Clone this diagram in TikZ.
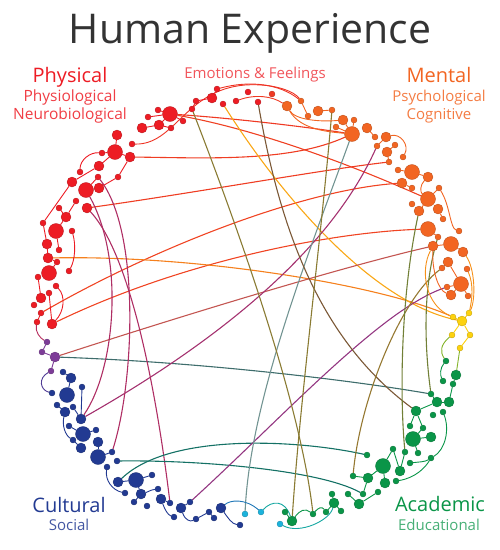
\documentclass[tikz,border=0pt]{standalone}
\usepackage{fontspec}
\setmainfont{Open Sans}
\pgfdeclarelayer{bg}
\pgfsetlayers{bg,main}
\definecolor{cR}{HTML}{ED1C24}
\definecolor{cO}{HTML}{F26522}
\definecolor{cY}{HTML}{FDD20E}
\definecolor{cG}{HTML}{0A9548}
\definecolor{cB}{HTML}{223A92}
\definecolor{cP}{HTML}{7D3C98}
\definecolor{cC}{HTML}{1CB3DC}
\definecolor{cT}{HTML}{333333}
\tikzset{
 dots/.style={circle,inner sep=0pt,minimum size=6pt},
 dotm/.style={circle,inner sep=0pt,minimum size=10pt},
 dotb/.style={circle,inner sep=0pt,minimum size=15pt},
 chord/.style={line width=1.1pt},
 lnk/.style={line width=0.9pt},
 big/.style={font=\fontsize{20}{20}\selectfont,anchor=base},
 sub/.style={font=\fontsize{15}{15}\selectfont,anchor=base},
}
\newcommand\hd[4]{\node[dot#3,fill=#4,draw=#4!75!black,line width=0.3pt] (#1) at (#2) {};}
\begin{document}
\begin{tikzpicture}[x=1pt,y=-1pt]
\path[use as bounding box] (0,0) rectangle (500,550);
% ---- texts
\node[font=\fontsize{41}{41}\selectfont,text=cT,anchor=base] (title) at (250,43) {Human Experience};
\node[big,text=cR] (l1) at (70,82) {Physical};
\node[sub,text=cR!85!white,font=\fontsize{15.5}{15.5}\selectfont] (l2) at (70,101) {Physiological};
\node[sub,text=cR!85!white,font=\fontsize{15.5}{15.5}\selectfont] (l3) at (70,119) {Neurobiological};
\node[sub,text=cR!75!white] (l4) at (255,78) {Emotions \& Feelings};
\node[big,text=cO] (l5) at (439,82) {Mental};
\node[sub,text=cO!85!white] (l6) at (439,101) {Psychological};
\node[sub,text=cO!85!white] (l7) at (439,119) {Cognitive};
\node[big,text=cB] (l8) at (69,512) {Cultural};
\node[sub,text=cB!85!white] (l9) at (69,530) {Social};
\node[big,text=cG] (l10) at (440,511) {Academic};
\node[sub,text=cG!75!white] (l11) at (439,530) {Educational};
% ---- red dots
\hd{p1}{217,89}{s}{cR}\hd{p2}{212,98}{m}{cR}\hd{p3}{196,101}{s}{cR}\hd{p4}{192,109}{s}{cR}
\hd{p5}{170,114}{b}{cR}\hd{p6}{158,110}{s}{cR}\hd{p7}{148,117}{s}{cR}\hd{p8}{142,128}{m}{cR}
\hd{p9}{159,125}{m}{cR}\hd{p10}{171,128}{s}{cR}\hd{p11}{183,121}{s}{cR}\hd{p12}{117,135}{m}{cR}
\hd{p13}{115,152}{b}{cR}\hd{p14}{130,157}{m}{cR}\hd{p15}{132,144}{s}{cR}\hd{p16}{102,153}{s}{cR}
\hd{p17}{99,166}{m}{cR}\hd{p18}{80,172}{s}{cR}\hd{p19}{72,182}{m}{cR}\hd{p20}{86,190}{b}{cR}
\hd{p21}{99,188}{m}{cR}\hd{p22}{98,177}{s}{cR}\hd{p23}{118,177}{s}{cR}\hd{p24}{87,208}{m}{cR}
\hd{p25}{76,201}{s}{cR}\hd{p26}{59,208}{s}{cR}\hd{p27}{66,217}{m}{cR}\hd{p28}{43,223}{s}{cR}
\hd{p29}{56,231}{b}{cR}\hd{p30}{72,231}{s}{cR}\hd{p31}{47,244}{m}{cR}\hd{p32}{59,250}{s}{cR}
\hd{p33}{48,258}{m}{cR}\hd{p34}{57,262}{s}{cR}\hd{p35}{49,273}{b}{cR}\hd{p36}{69,271}{s}{cR}
\hd{p37}{38,277}{s}{cR}\hd{p38}{56,286}{s}{cR}\hd{p39}{41,298}{m}{cR}\hd{p40}{49,293}{s}{cR}
\hd{p41}{34,305}{s}{cR}\hd{p42}{41,313}{s}{cR}\hd{p43}{37,322}{s}{cR}\hd{p44}{52,324}{m}{cR}
% ---- emotions
\hd{e1}{223,104}{s}{cR}\hd{e2}{236,101}{s}{cR}\hd{e3}{248,92}{s}{cR}\hd{e4}{258,102}{s}{cR}
\hd{e5}{272,94}{s}{cR!60!cO}\hd{e6}{287,106}{m}{cO}\hd{e7}{301,101}{s}{cO}\hd{e8}{308,116}{s}{cO}
\hd{e9}{318,111}{m}{cO}\hd{e10}{332,110}{s}{cO}
% ---- mental
\hd{m1}{343,120}{m}{cO}\hd{m2}{354,120}{s}{cO}\hd{m3}{336,127}{s}{cO}\hd{m4}{352,134}{b}{cO}
\hd{m5}{367,128}{m}{cO}\hd{m6}{375,137}{s}{cO}\hd{m7}{386,137}{m}{cO}\hd{m8}{377,146}{s}{cO}
\hd{m9}{387,152}{m}{cO}\hd{m10}{395,145}{s}{cO}\hd{m11}{403,157}{s}{cO}\hd{m12}{389,162}{s}{cO}
\hd{m13}{398,170}{s}{cO}\hd{m14}{412,172}{b}{cO}\hd{m15}{428,177}{m}{cO}\hd{m16}{402,183}{m}{cO}
\hd{m17}{412,188}{s}{cO}\hd{m18}{439,188}{s}{cO}\hd{m19}{428,199}{b}{cO}\hd{m20}{412,204}{s}{cO}
\hd{m21}{419,211}{m}{cO}\hd{m22}{438,209}{m}{cO}\hd{m23}{443,219}{s}{cO}\hd{m24}{428,229}{b}{cO}
\hd{m25}{459,231}{s}{cO}\hd{m26}{438,237}{s}{cO}\hd{m27}{451,244}{b}{cO}\hd{m28}{433,246}{m}{cO}
\hd{m29}{463,252}{m}{cO}\hd{m30}{448,262}{m}{cO}\hd{m31}{442,268}{s}{cO}\hd{m32}{467,269}{s}{cO}
\hd{m33}{461,284}{b}{cO}\hd{m34}{447,287}{s}{cO}\hd{m35}{451,295}{m}{cO}\hd{m36}{468,296}{s}{cO}
% ---- yellow
\hd{y1}{453,317}{s}{cY}\hd{y2}{469,313}{s}{cY}\hd{y3}{462,321}{m}{cY}\hd{y4}{452,335}{s}{cY}
\hd{y5}{470,335}{s}{cY}\hd{y6}{460,348}{s}{cY}
% ---- green
\hd{g1}{446,361}{s}{cG}\hd{g2}{456,375}{m}{cG}\hd{g3}{443,381}{s}{cG}\hd{g4}{453,384}{s}{cG}
\hd{g5}{431,394}{s}{cG}\hd{g6}{437,402}{m}{cG}\hd{g7}{449,402}{m}{cG}\hd{g8}{416,411}{m}{cG}
\hd{g9}{433,415}{s}{cG}\hd{g10}{443,412}{s}{cG}\hd{g11}{410,426}{s}{cG}\hd{g12}{423,428}{s}{cG}
\hd{g13}{413,439}{b}{cG}\hd{g14}{431,437}{m}{cG}\hd{g15}{405,452}{s}{cG}\hd{g16}{418,453}{s}{cG}
\hd{g17}{393,449}{s}{cG}\hd{g18}{431,458}{s}{cG}\hd{g19}{367,455}{s}{cG}\hd{g20}{410,463}{s}{cG}
\hd{g21}{400,471}{m}{cG}\hd{g22}{383,466}{b}{cG}\hd{g23}{353,476}{s}{cG}\hd{g24}{368,478}{m}{cG}
\hd{g25}{385,483}{m}{cG}\hd{g26}{396,481}{s}{cG}\hd{g27}{378,492}{s}{cG}\hd{g28}{363,494}{s}{cG}
\hd{g29}{359,504}{m}{cG}\hd{g30}{348,494}{s}{cG}\hd{g31}{332,494}{s}{cG}\hd{g32}{334,503}{m}{cG}
\hd{g33}{341,511}{s}{cG}\hd{g34}{326,512}{s}{cG}\hd{g35}{313,514}{s}{cG}\hd{g36}{292,521}{m}{cG}
\hd{g37}{285,512}{s}{cG}
% ---- cyan
\hd{c1}{261,512}{s}{cC}\hd{c2}{280,524}{s}{cC}\hd{c3}{245,514}{s}{cC}
% ---- purple
\hd{u1}{47,342}{s}{cP}\hd{u2}{42,352}{s}{cP}\hd{u3}{55,357}{m}{cP}\hd{u4}{51,371}{s}{cP}
% ---- blue
\hd{b1}{63,372}{s}{cB}\hd{b2}{71,378}{m}{cB}\hd{b3}{52,393}{s}{cB}\hd{b4}{67,395}{b}{cB}
\hd{b5}{82,387}{s}{cB}\hd{b6}{57,405}{s}{cB}\hd{b7}{65,412}{m}{cB}\hd{b8}{73,407}{s}{cB}
\hd{b9}{81,419}{m}{cB}\hd{b10}{69,426}{s}{cB}\hd{b11}{83,434}{b}{cB}\hd{b12}{96,430}{s}{cB}
\hd{b13}{73,440}{s}{cB}\hd{b14}{98,442}{m}{cB}\hd{b15}{81,448}{m}{cB}\hd{b16}{112,452}{s}{cB}
\hd{b17}{98,457}{b}{cB}\hd{b18}{117,461}{s}{cB}\hd{b19}{107,467}{s}{cB}\hd{b20}{152,475}{s}{cB}
\hd{b21}{118,482}{m}{cB}\hd{b22}{136,480}{b}{cB}\hd{b23}{125,493}{s}{cB}\hd{b24}{141,494}{m}{cB}
\hd{b25}{158,489}{s}{cB}\hd{b26}{134,502}{s}{cB}\hd{b27}{147,506}{s}{cB}\hd{b28}{161,499}{m}{cB}
\hd{b29}{170,503}{s}{cB}\hd{b30}{174,517}{s}{cB}\hd{b31}{181,508}{m}{cB}\hd{b32}{190,502}{s}{cB}
\hd{b33}{196,519}{s}{cB}\hd{b34}{209,512}{s}{cB}\hd{b35}{214,518}{s}{cB}\hd{b36}{221,508}{m}{cB}
\hd{b37}{240,525}{s}{cB}
\begin{pgfonlayer}{bg}
% ---- long chords
\draw[chord,cR!60!cO] (p5) .. controls (230,118) and (300,126) .. (m4);
\draw[chord,cR!50!cO] (p5) .. controls (250,128) and (340,160) .. (m19);
\draw[chord,cR!55!cO] (p14) .. controls (210,158) and (290,162) .. (m4);
\draw[chord,cR!55!cO] (p24) .. controls (200,192) and (320,170) .. (m12);
\draw[chord,cR!45!cO] (p42) .. controls (150,250) and (300,190) .. (m16);
\draw[chord,cR!45!cO] (p44) .. controls (180,262) and (330,232) .. (m24);
\draw[chord,cO!75!cY] (p33) .. controls (200,255) and (380,285) .. (y1);
\draw[chord,cO!40!cY] (e1) .. controls (290,210) and (380,305) .. (y3);
\draw[chord,cP!40!cO] (u3) .. controls (200,310) and (350,265) .. (m28);
\draw[chord,cP!45!cG] (u3) .. controls (200,362) and (350,380) .. (g5);
\draw[chord,cP!65!cR] (b9) .. controls (220,340) and (330,250) .. (m8);
\draw[chord,cR!45!cP] (p20) .. controls (125,260) and (115,370) .. (b9);
\draw[chord,cR!45!cP] (p22) .. controls (140,230) and (135,380) .. (b16);
\draw[chord,cR!45!cP] (p24) .. controls (135,260) and (160,420) .. (b29);
\draw[chord,cB!40!cG] (b18) .. controls (200,460) and (320,470) .. (g28);
\draw[chord,cB!40!cG] (b21) .. controls (170,432) and (300,440) .. (g19);
\draw[chord,cP!80!cR] (b32) .. controls (280,420) and (380,310) .. (m34);
\draw[chord,cC!60!cO] (c3) .. controls (250,400) and (310,250) .. (m4);
\draw[chord,cR!50!cG] (e4) .. controls (280,230) and (320,340) .. (g8);
\draw[chord,cO!55!cG] (e10) .. controls (320,250) and (300,400) .. (g36);
\draw[chord,cO!55!cG] (p4) .. controls (235,220) and (300,400) .. (g35);
\draw[chord,cO!60!cG] (m31) .. controls (400,300) and (360,400) .. (g23);
\draw[chord,cO!45!cG] (m21) .. controls (400,300) and (400,400) .. (g15);
\draw[chord,cO!45!cG] (m26) .. controls (422,290) and (425,350) .. (g5);
% ---- top arcs
\draw[lnk,cR!70!cO] (p15) .. controls (175,145) and (185,90) .. (245,85) .. controls (275,83) and (295,92) .. (e7);
\draw[lnk,cR!70!cO] (p1) .. controls (250,80) and (280,84) .. (e7);
\draw[lnk,cR!60!cO] (e2) .. controls (255,94) and (272,96) .. (e6);
\draw[lnk,cO] (e6) .. controls (295,120) and (320,122) .. (m1);
\draw[lnk,cO] (e6) .. controls (300,130) and (330,132) .. (m4);
\draw[lnk,cO] (e7) -- (e8);
\draw[lnk,cO] (e9) -- (e10);
% ---- red local links
\draw[lnk,cR] (p1) -- (p2) -- (p3) -- (p4);
\draw[lnk,cR] (p5) -- (p7); \draw[lnk,cR] (p5) -- (p9) -- (p8); \draw[lnk,cR] (p5) -- (p11);
\draw[lnk,cR] (p6) -- (p5); \draw[lnk,cR] (p10) -- (p9);
\draw[lnk,cR] (p12) -- (p13) -- (p14); \draw[lnk,cR] (p13) -- (p16);
\draw[lnk,cR] (p13) -- (p17); \draw[lnk,cR] (p14) -- (p23) -- (p21);
\draw[lnk,cR] (p18) .. controls (80,160) and (90,152) .. (p16);
\draw[lnk,cR] (p17) -- (p19) -- (p28);
\draw[lnk,cR] (p20) -- (p21); \draw[lnk,cR] (p20) -- (p22);
\draw[lnk,cR] (p25) -- (p27); \draw[lnk,cR] (p26) -- (p27);
\draw[lnk,cR] (p28) -- (p31); \draw[lnk,cR] (p29) -- (p27); \draw[lnk,cR] (p29) -- (p32);
\draw[lnk,cR] (p30) .. controls (76,245) and (75,260) .. (p36);
\draw[lnk,cR] (p33) -- (p34); \draw[lnk,cR] (p35) -- (p34);
\draw[lnk,cR] (p37) -- (p39); \draw[lnk,cR] (p40) -- (p44);
\draw[lnk,cR] (p38) .. controls (66,296) and (64,312) .. (p44);
\draw[lnk,cR] (p42) -- (p43);
\draw[lnk,cR!50!cP] (p43) .. controls (35,332) and (40,338) .. (u1);
\draw[lnk,cR] (p31) -- (p33);
% ---- mental local links
\draw[lnk,cO] (m1) -- (m4); \draw[lnk,cO] (m2) -- (m4); \draw[lnk,cO] (m3) -- (m4);
\draw[lnk,cO] (m5) -- (m6); \draw[lnk,cO] (m7) -- (m8);
\draw[lnk,cO] (m7) .. controls (400,133) and (410,145) .. (m11);
\draw[lnk,cO] (m9) -- (m10); \draw[lnk,cO] (m9) -- (m12);
\draw[lnk,cO] (m14) -- (m13); \draw[lnk,cO] (m14) -- (m15);
\draw[lnk,cO] (m15) .. controls (420,185) and (420,192) .. (m19);
\draw[lnk,cO] (m16) -- (m17); \draw[lnk,cO] (m19) -- (m18); \draw[lnk,cO] (m19) -- (m21);
\draw[lnk,cO] (m22) -- (m23); \draw[lnk,cO] (m24) -- (m26);
\draw[lnk,cO] (m18) .. controls (450,205) and (450,228) .. (m25);
\draw[lnk,cO] (m27) -- (m29); \draw[lnk,cO] (m27) -- (m28);
\draw[lnk,cO!60!cY] (m28) .. controls (420,270) and (425,305) .. (y1);
\draw[lnk,cO] (m28) .. controls (432,270) and (438,290) .. (m35);
\draw[lnk,cO] (m30) -- (m31); \draw[lnk,cO] (m30) -- (m33);
\draw[lnk,cO] (m33) -- (m34); \draw[lnk,cO] (m33) -- (m35); \draw[lnk,cO] (m33) -- (m36);
\draw[lnk,cO!60!cY] (m29) .. controls (475,268) and (476,300) .. (y2);
\draw[lnk,cO!60!cY] (m32) .. controls (474,285) and (472,300) .. (y2);
% ---- yellow local
\draw[lnk,cY] (y3) -- (y1); \draw[lnk,cY] (y3) -- (y2); \draw[lnk,cY] (y3) -- (y4); \draw[lnk,cY] (y3) -- (y5);
\draw[lnk,cY] (y5) -- (y6);
\draw[lnk,cY!50!cG] (y6) -- (g2);
\draw[lnk,cY!50!cG] (y4) .. controls (440,345) and (440,352) .. (g1);
% ---- green local
\draw[lnk,cG] (g1) .. controls (440,368) and (440,375) .. (g3);
\draw[lnk,cG] (g2) -- (g4); \draw[lnk,cG] (g7) -- (g4);
\draw[lnk,cG] (g6) -- (g5); \draw[lnk,cG] (g6) -- (g7); \draw[lnk,cG] (g8) -- (g6);
\draw[lnk,cG] (g8) -- (g11); \draw[lnk,cG] (g8) -- (g12);
\draw[lnk,cG] (g13) -- (g14); \draw[lnk,cG] (g13) -- (g16); \draw[lnk,cG] (g13) -- (g12);
\draw[lnk,cG] (g10) .. controls (450,430) and (445,450) .. (g18);
\draw[lnk,cG] (g18) .. controls (425,462) and (418,462) .. (g20);
\draw[lnk,cG] (g21) -- (g17); \draw[lnk,cG] (g22) -- (g17); \draw[lnk,cG] (g22) -- (g25);
\draw[lnk,cG] (g24) -- (g23); \draw[lnk,cG] (g24) -- (g28); \draw[lnk,cG] (g24) -- (g22);
\draw[lnk,cG] (g26) .. controls (415,478) and (425,468) .. (g18);
\draw[lnk,cG] (g29) -- (g30); \draw[lnk,cG] (g29) -- (g27);
\draw[lnk,cG] (g32) -- (g31); \draw[lnk,cG] (g32) -- (g33); \draw[lnk,cG] (g32) -- (g34);
\draw[lnk,cG] (g35) .. controls (318,508) and (322,506) .. (g34);
\draw[lnk,cG] (g36) -- (g37);
\draw[lnk,cG] (g36) .. controls (300,510) and (305,508) .. (g35);
\draw[lnk,cG] (g21) -- (g15);
% ---- cyan / bottom arcs
\draw[lnk,cC!60!cG] (c2) .. controls (300,535) and (330,520) .. (g32);
\draw[lnk,cC!60!cG] (c1) .. controls (272,500) and (285,500) .. (g36);
\draw[lnk,cB!50!cC] (b36) .. controls (230,500) and (245,498) .. (c1);
% ---- purple / blue local
\draw[lnk,cP] (u1) -- (u2) -- (u3); \draw[lnk,cP] (u3) -- (u4);
\draw[lnk,cP!50!cB] (u4) .. controls (38,378) and (40,390) .. (b3);
\draw[lnk,cB] (b1) -- (b2) -- (b4); \draw[lnk,cB] (b5) -- (b9); \draw[lnk,cB] (b6) -- (b7);
\draw[lnk,cB] (b7) .. controls (62,425) and (65,435) .. (b13);
\draw[lnk,cB] (b8) -- (b9); \draw[lnk,cB] (b11) -- (b12); \draw[lnk,cB] (b11) -- (b10);
\draw[lnk,cB] (b15) -- (b13); \draw[lnk,cB] (b17) -- (b14); \draw[lnk,cB] (b17) -- (b16);
\draw[lnk,cB] (b19) .. controls (105,480) and (112,490) .. (b23);
\draw[lnk,cB] (b22) -- (b20); \draw[lnk,cB] (b22) -- (b24); \draw[lnk,cB] (b22) -- (b21);
\draw[lnk,cB] (b24) -- (b26);
\draw[lnk,cB] (b25) .. controls (150,490) and (148,492) .. (b24);
\draw[lnk,cB] (b28) -- (b29);
\draw[lnk,cB] (b28) .. controls (165,510) and (168,515) .. (b30);
\draw[lnk,cB] (b31) -- (b32);
\draw[lnk,cB] (b31) .. controls (185,520) and (190,522) .. (b33);
\draw[lnk,cB] (b33) -- (b34); \draw[lnk,cB] (b34) -- (b35);
\draw[lnk,cB] (b36) .. controls (228,518) and (232,524) .. (b37);
\end{pgfonlayer}
\end{tikzpicture}
\end{document}
